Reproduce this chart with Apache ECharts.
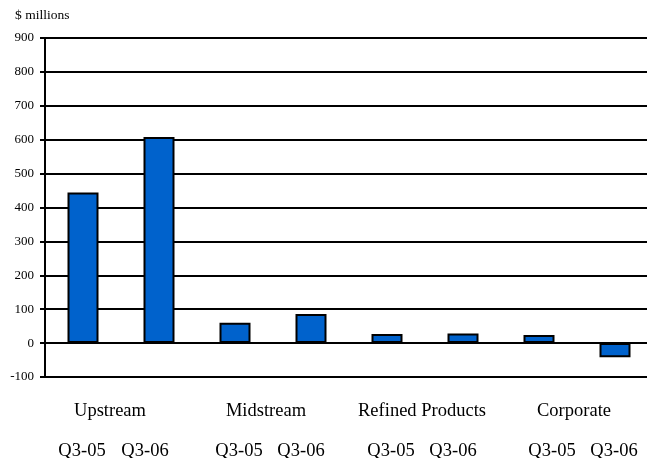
<!DOCTYPE html>
<html>
<head>
<meta charset="utf-8">
<script src="https://cdn.jsdelivr.net/npm/echarts@6/dist/echarts.min.js"></script>
<style>
  html, body { margin: 0; padding: 0; background: #fff; }
  #chart { width: 647px; height: 458px; }
</style>
</head>
<body>
<div id="chart"></div>
<script>
// Segment groups and quarter labels
const segments = ['Upstream', 'Midstream', 'Refined Products', 'Corporate'];
const quarters = ['Q3-05', 'Q3-06', 'Q3-05', 'Q3-06', 'Q3-05', 'Q3-06', 'Q3-05', 'Q3-06'];
// Earnings by segment, $ millions
const values = [444, 608, 60, 86, 27, 28, 24, -42];
// Value axis ticks
const yMin = -100, yMax = 900, yStep = 100;

// Horizontal nudges (px) for the axis labels, so they sit as in the slide layout
const quarterNudge = [-1, -14, 4, -10, 4, -10, 13, -1];
const segmentNudge = [-11, -7, -3, -3];

const font = 'Liberation Serif, Times New Roman, serif';

// Centered label shifted by n px: pad one side by 2|n|
function nudged(labels, nudges) {
  return labels.map((v, i) => {
    const n = nudges[i];
    const pad = n >= 0 ? [0, 0, 0, 2 * n] : [0, -2 * n, 0, 0];
    return { value: v, textStyle: { padding: pad } };
  });
}

const chart = echarts.init(document.getElementById('chart'), null, { renderer: 'canvas' });

chart.setOption({
  animation: false,
  backgroundColor: '#fff',
  title: {
    text: '$ millions',
    left: 10, top: 3,
    textStyle: { fontFamily: font, fontSize: 13.5, fontWeight: 'normal', color: '#000' }
  },
  grid: {
    left: 45, top: 38, width: 608, height: 339,
    containLabel: false, outerBoundsMode: 'none'
  },
  xAxis: [
    {
      type: 'category',
      data: nudged(quarters, quarterNudge),
      position: 'bottom',
      axisLine: { show: false, onZero: false },
      axisTick: { show: false },
      splitLine: { show: false },
      axisLabel: { margin: 65, fontFamily: font, fontSize: 18.5, color: '#000', interval: 0 }
    },
    {
      type: 'category',
      data: nudged(segments, segmentNudge),
      position: 'bottom',
      axisLine: { show: false, onZero: false },
      axisTick: { show: false },
      splitLine: { show: false },
      axisLabel: { margin: 25, fontFamily: font, fontSize: 18.5, color: '#000', interval: 0 }
    }
  ],
  yAxis: {
    type: 'value',
    min: yMin, max: yMax, interval: yStep,
    axisLine: { show: true, lineStyle: { color: '#000', width: 2 } },
    axisTick: { show: true, length: 5, lineStyle: { color: '#000', width: 2 } },
    splitLine: { show: true, lineStyle: { color: '#000', width: 2 } },
    axisLabel: { margin: 11, fontFamily: font, fontSize: 13, color: '#000' }
  },
  series: [{
    type: 'bar',
    xAxisIndex: 0,
    data: values,
    barWidth: 31,
    itemStyle: { color: '#0062CC', borderColor: '#000', borderWidth: 2 }
  }]
});
</script>
</body>
</html>
